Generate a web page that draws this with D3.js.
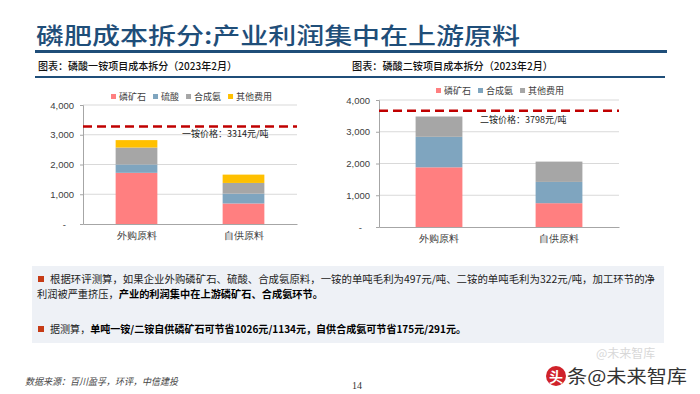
<!DOCTYPE html>
<html><head><meta charset="utf-8">
<script src="https://cdn.jsdelivr.net/npm/d3@7"></script>
<style>
html,body{margin:0;padding:0;background:#fff;}
svg{display:block;font-family:"Noto Sans CJK SC","Noto Sans",sans-serif;}
</style></head>
<body><svg id="c" width="700" height="394"></svg>
<script>
// ---------- data ----------
const categories = ["外购原料", "自供原料"];
const seriesLeft = ["磷矿石", "硫酸", "合成氨", "其他费用"];
const leftPhosRock = [1720, 690];
const leftSulfuric = [280, 330];
const leftAmmonia = [570, 360];
const leftOther = [250, 280];
const leftPrice = 3280;
const leftPriceLabel = "一铵价格：3314元/吨";

const seriesRight = ["磷矿石", "合成氨", "其他费用"];
const rightPhosRock = [1880, 750];
const rightAmmonia = [960, 670];
const rightOther = [640, 640];
const rightPrice = 3660;
const rightPriceLabel = "二铵价格：3798元/吨";

const yTicks = [0, 1000, 2000, 3000, 4000];
const paletteLeft = ["#ff7f80", "#7fa5bf", "#a6a6a6", "#ffc000"];
const paletteRight = ["#ff7f80", "#7fa5bf", "#a6a6a6"];

const title = "磷肥成本拆分:产业利润集中在上游原料";
const subLeft = "图表：磷酸一铵项目成本拆分（2023年2月）";
const subRight = "图表：磷酸二铵项目成本拆分（2023年2月）";
const note1 = "根据环评测算，如果企业外购磷矿石、硫酸、合成氨原料，一铵的单吨毛利为497元/吨、二铵的单吨毛利为322元/吨，加工环节的净";
const note2a = "利润被严重挤压，";
const note2b = "产业的利润集中在上游磷矿石、合成氨环节。";
const note3a = "据测算，";
const note3b = "单吨一铵/二铵自供磷矿石可节省1026元/1134元，自供合成氨可节省175元/291元。";
const source = "数据来源：百川盈孚，环评，中信建投";
const pageNo = "14";

// ---------- page frame ----------
const svg = d3.select("#c");
const navy = "#1f4e79";
svg.append("text").attr("x", 36).attr("y", 44).attr("font-size", 23).attr("font-weight", 500)
  .attr("fill", navy).attr("textLength", 484).attr("lengthAdjust", "spacingAndGlyphs").text(title);
svg.append("rect").attr("x", 35).attr("y", 50).attr("width", 632).attr("height", 3).attr("fill", navy);
svg.append("text").attr("x", 38).attr("y", 70).attr("font-size", 10.5).attr("font-weight", 500)
  .attr("fill", "#111").attr("textLength", 199).attr("lengthAdjust", "spacingAndGlyphs").text(subLeft);
svg.append("text").attr("x", 352).attr("y", 70).attr("font-size", 10.5).attr("font-weight", 500)
  .attr("fill", "#111").attr("textLength", 201).attr("lengthAdjust", "spacingAndGlyphs").text(subRight);
svg.append("rect").attr("x", 35).attr("y", 76).attr("width", 630).attr("height", 2).attr("fill", navy);

// ---------- chart builder ----------
function chart(cfg) {
  const g = svg.append("g");
  const color = d3.scaleOrdinal().domain(cfg.series).range(cfg.palette);
  const x = d3.scaleBand().domain(categories).range([cfg.x0, cfg.x1]).paddingInner(0.61).paddingOuter(0.305);
  const y = d3.scaleLinear().domain([0, 4000]).range([cfg.yb, cfg.yt]);
  // grid
  g.selectAll("line.grid").data(yTicks.slice(1)).join("line")
    .attr("x1", cfg.x0).attr("x2", cfg.x1).attr("y1", d => y(d)).attr("y2", d => y(d))
    .attr("stroke", "#d9d9d9").attr("stroke-width", 1);
  // y axis
  const ya = d3.axisLeft(y).tickValues(yTicks).tickSize(3).tickPadding(6)
    .tickFormat(d => d === 0 ? "-" : d3.format(",")(d));
  const yg = g.append("g").attr("transform", `translate(${cfg.x0},0)`).call(ya);
  yg.select(".domain").attr("stroke", "#a6a6a6");
  yg.selectAll(".tick line").attr("stroke", "#a6a6a6");
  yg.selectAll(".tick text").attr("font-size", 9.5).attr("fill", "#404040")
    .attr("font-family", "'Liberation Sans',Arial,sans-serif")
    .attr("dx", d => d === 0 ? -8 : 0);
  // x axis
  const xa = d3.axisBottom(x).tickSize(0).tickPadding(8);
  const xg = g.append("g").attr("transform", `translate(0,${cfg.yb})`).call(xa);
  xg.select(".domain").attr("stroke", "#a6a6a6");
  xg.selectAll(".tick text").attr("font-size", 9.5).attr("fill", "#404040");
  // stacked bars
  const rows = categories.map((c, i) => {
    const r = {cat: c};
    cfg.series.forEach((s, k) => r[s] = cfg.values[k][i]);
    return r;
  });
  const stack = d3.stack().keys(cfg.series)(rows);
  g.selectAll("g.layer").data(stack).join("g").attr("fill", d => color(d.key))
    .selectAll("rect").data(d => d).join("rect")
    .attr("x", d => x(d.data.cat)).attr("width", x.bandwidth())
    .attr("y", d => y(d[1])).attr("height", d => y(d[0]) - y(d[1]));
  // price line
  g.append("line").attr("x1", cfg.x0).attr("x2", cfg.x1).attr("y1", y(cfg.price)).attr("y2", y(cfg.price))
    .attr("stroke", "#c00000").attr("stroke-width", 2.5).attr("stroke-dasharray", "9,5");
  g.append("text").attr("x", cfg.labelX).attr("y", y(cfg.price) + cfg.labelDy).attr("font-size", 9)
    .attr("fill", "#222").text(cfg.priceLabel);
  // legend
  let lx = cfg.legendX;
  cfg.series.forEach(s => {
    g.append("rect").attr("x", lx).attr("y", cfg.legendY - 3).attr("width", 5).attr("height", 5).attr("fill", color(s));
    const t = g.append("text").attr("x", lx + 8).attr("y", cfg.legendY + 3).attr("font-size", 9)
      .attr("fill", "#404040").text(s);
    lx += 8 + t.node().getComputedTextLength() + 7;
  });
}

chart({x0: 83, x1: 297, yb: 224, yt: 105, series: seriesLeft, palette: paletteLeft,
  values: [leftPhosRock, leftSulfuric, leftAmmonia, leftOther],
  price: leftPrice, priceLabel: leftPriceLabel, labelX: 182, labelDy: 11,
  legendX: 111, legendY: 97});
chart({x0: 379, x1: 619, yb: 227, yt: 100, series: seriesRight, palette: paletteRight,
  values: [rightPhosRock, rightAmmonia, rightOther],
  price: rightPrice, priceLabel: rightPriceLabel, labelX: 480, labelDy: 12,
  legendX: 436, legendY: 91});

// ---------- notes box ----------
svg.append("rect").attr("x", 32).attr("y", 266).attr("width", 632).attr("height", 77).attr("fill", "#eef1f6");
const bullet = "#c63b16";
svg.append("rect").attr("x", 38).attr("y", 276).attr("width", 6).attr("height", 6).attr("fill", bullet);
svg.append("rect").attr("x", 38).attr("y", 326).attr("width", 6).attr("height", 6).attr("fill", bullet);
svg.append("text").attr("x", 50).attr("y", 283).attr("font-size", 10).attr("fill", "#222")
  .attr("textLength", 605).attr("lengthAdjust", "spacingAndGlyphs").text(note1);
const t2 = svg.append("text").attr("x", 37).attr("y", 298).attr("font-size", 10).attr("fill", "#222")
  .attr("textLength", 286).attr("lengthAdjust", "spacingAndGlyphs");
t2.append("tspan").text(note2a);
t2.append("tspan").attr("font-weight", 700).attr("fill", "#000").text(note2b);
const t3 = svg.append("text").attr("x", 50).attr("y", 333).attr("font-size", 10).attr("fill", "#222")
  .attr("textLength", 416).attr("lengthAdjust", "spacingAndGlyphs");
t3.append("tspan").text(note3a);
t3.append("tspan").attr("font-weight", 700).attr("fill", "#000").text(note3b);

// ---------- footer ----------
svg.append("text").attr("x", 25).attr("y", 385).attr("font-size", 9.5).attr("font-style", "italic")
  .attr("fill", "#444").attr("textLength", 153).attr("lengthAdjust", "spacingAndGlyphs").text(source);
svg.append("text").attr("x", 357).attr("y", 389).attr("font-size", 10).attr("text-anchor", "middle")
  .attr("fill", "#333").attr("font-family", "'Liberation Serif',serif").text(pageNo);
// watermark
svg.append("text").attr("x", 596).attr("y", 358).attr("font-size", 12).attr("fill", "#d8d8d8").text("@未来智库");
svg.append("circle").attr("cx", 556).attr("cy", 376).attr("r", 10).attr("fill", "#d0222a");
svg.append("text").attr("x", 556).attr("y", 382).attr("font-size", 14).attr("font-weight", 700)
  .attr("text-anchor", "middle").attr("fill", "#fff").text("头");
svg.append("text").attr("x", 567).attr("y", 383).attr("font-size", 18).attr("fill", "#333")
  .attr("textLength", 120).attr("lengthAdjust", "spacingAndGlyphs").text("条@未来智库");
</script></body></html>
